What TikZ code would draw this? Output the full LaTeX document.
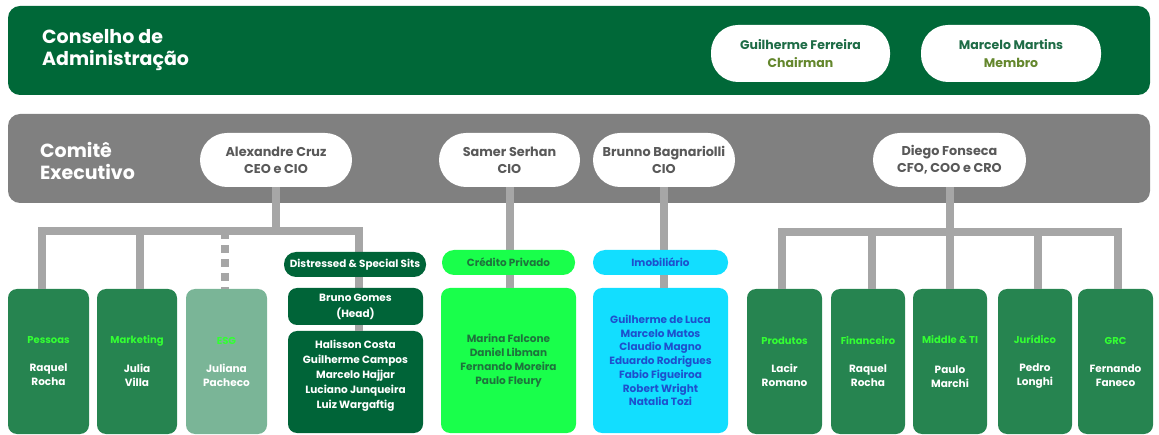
\documentclass[tikz,border=0pt]{standalone}
\usepackage{fontspec}
\setmainfont{Poppins}
\definecolor{boardgreen}{RGB}{0,104,56}
\definecolor{execgray}{RGB}{128,128,128}
\definecolor{conngray}{RGB}{166,166,166}
\definecolor{deptgreen}{RGB}{38,132,80}
\definecolor{esggreen}{RGB}{122,181,151}
\definecolor{dssgreen}{RGB}{0,100,56}
\definecolor{credgreen}{RGB}{25,255,75}
\definecolor{imobcyan}{RGB}{18,222,255}
\definecolor{titlegreen}{RGB}{51,255,51}
\definecolor{pillname}{RGB}{30,108,70}
\definecolor{pillrole}{RGB}{100,135,45}
\definecolor{execname}{RGB}{89,89,89}
\definecolor{credtext}{RGB}{30,115,60}
\definecolor{imobtext}{RGB}{30,80,205}
\tikzset{
  band/.style={rounded corners=12pt, inner sep=0pt},
  pill/.style={fill=white, rounded corners=27pt, inner sep=0pt, align=center},
  epill/.style={pill, minimum height=54pt, text=execname, font=\fontsize{12.8}{17}\selectfont\bfseries},
  deptbox/.style={fill=deptgreen, rounded corners=9pt, inner sep=0pt, minimum height=145pt, align=center, text=white, font=\fontsize{10.5}{14}\selectfont\bfseries},
  hdr/.style={rounded corners=12pt, inner sep=0pt, minimum height=25pt, align=center, font=\fontsize{10.4}{12}\selectfont\bfseries},
  listbox/.style={rounded corners=9pt, inner sep=0pt, align=center},
  conn/.style={draw=conngray, line width=8pt},
  bandtitle/.style={text=white, anchor=west, align=left, inner sep=0pt, font=\fontsize{19}{22.5}\selectfont\bfseries},
}
\newcommand{\dt}[1]{{\color{titlegreen}\fontsize{10}{14}\selectfont #1}}
\begin{document}
\begin{tikzpicture}[x=1pt,y=-1pt]
\useasboundingbox (0,0) rectangle (1159,435);
% bands
\node[band, fill=boardgreen, minimum width=1142pt, minimum height=89pt] (board) at (579,50.5) {};
\node[band, fill=execgray, minimum width=1142pt, minimum height=89pt] (exec) at (579,158.5) {};
\node[bandtitle] (boardt) at (42,50) {Conselho de\\Administração};
\node[bandtitle] (exect) at (40,161) {Comitê\\Executivo};
% board pills
\node[pill, minimum width=179pt, minimum height=57pt, font=\fontsize{12.5}{18}\selectfont\bfseries] (gf) at (800.5,53.5) {\color{pillname}Guilherme Ferreira\\\color{pillrole}Chairman};
\node[pill, minimum width=180pt, minimum height=57pt, font=\fontsize{12.5}{18}\selectfont\bfseries] (mm) at (1011,53.5) {\color{pillname}Marcelo Martins\\\color{pillrole}Membro};
% exec pills
\node[epill, minimum width=152pt] (alex) at (276,160) {Alexandre Cruz\\CEO e CIO};
\node[epill, minimum width=141pt] (samer) at (509.5,160) {Samer Serhan\\CIO};
\node[epill, minimum width=142pt] (brunno) at (664,160) {Brunno Bagnariolli\\CIO};
\node[epill, minimum width=153pt] (diego) at (949.5,160) {Diego Fonseca\\CFO, COO e CRO};
% junctions
\coordinate (jA) at (276,231);
\coordinate (jD) at (949.5,232);
% lower boxes
\node[deptbox, minimum width=81pt] (pessoas) at (48.5,361.5) {\dt{Pessoas}\\[14pt]Raquel\\Rocha};
\node[deptbox, minimum width=80pt] (mkt) at (137,361.5) {\dt{Marketing}\\[15pt]Julia\\Villa};
\node[deptbox, minimum width=81pt, fill=esggreen] (esg) at (226.5,361.5) {\dt{ESG}\\[14pt]Juliana\\Pacheco};
\node[listbox, fill=dssgreen, minimum width=135pt, minimum height=102pt, text depth=15pt, text=white, font=\fontsize{10.5}{15}\selectfont\bfseries] (team) at (355.5,382) {Halisson Costa\\Guilherme Campos\\Marcelo Hajjar\\Luciano Junqueira\\Luiz Wargaftig};
\node[listbox, fill=credgreen, minimum width=135pt, minimum height=145pt, text=credtext, font=\fontsize{10.5}{13.8}\selectfont\bfseries] (cred) at (508.5,360.5) {Marina Falcone\\Daniel Libman\\Fernando Moreira\\Paulo Fleury};
\node[listbox, fill=imobcyan, minimum width=135pt, minimum height=145pt, text=imobtext, font=\fontsize{10.5}{13.7}\selectfont\bfseries] (imob) at (660.5,360.5) {Guilherme de Luca\\Marcelo Matos\\Claudio Magno\\Eduardo Rodrigues\\Fabio Figueiroa\\Robert Wright\\Natalia Tozi};
\node[deptbox, minimum width=75pt] (prod) at (784.5,361.5) {\dt{Produtos}\\[14pt]Lacir\\Romano};
\node[deptbox, minimum width=74pt] (fin) at (868,361.5) {\dt{Financeiro}\\[14pt]Raquel\\Rocha};
\node[deptbox, minimum width=74pt] (mid) at (950,361.5) {\dt{Middle \& TI}\\[16pt]Paulo\\Marchi};
\node[deptbox, minimum width=74pt] (jur) at (1035,361.5) {\dt{Jurídico}\\[14pt]Pedro\\Longhi};
\node[deptbox, minimum width=75pt] (grc) at (1115.5,361.5) {\dt{GRC}\\[14pt]Fernando\\Faneco};
% connectors
\draw[conn] (alex.south) -- (jA);
\draw[conn] ([xshift=-6.5pt]pessoas.north) |- (jA) -| ([xshift=3.5pt]team.north);
\draw[conn] ([xshift=3pt]mkt.north) -- ([xshift=3pt]mkt.north |- jA);
\draw[conn, dash pattern=on 8pt off 6pt] ([xshift=-1.5pt]esg.north |- jA) -- ([xshift=-1.5pt]esg.north);
\draw[conn] (samer.south) -- (samer.south |- cred.north);
\draw[conn] (brunno.south) -- (brunno.south |- imob.north);
\draw[conn] (diego.south) -- (jD);
\draw[conn] ([xshift=-2.5pt]prod.north) |- (jD) -| ([xshift=2.5pt]grc.north);
\draw[conn] ([xshift=4pt]fin.north) -- ([xshift=4pt]fin.north |- jD);
\draw[conn] (mid.north) -- (mid.north |- jD);
\draw[conn] ([xshift=3pt]jur.north) -- ([xshift=3pt]jur.north |- jD);
% headers on top of connectors
\node[hdr, fill=dssgreen, minimum width=142pt, text=white] (dss) at (355,264.5) {Distressed \& Special Sits};
\node[listbox, fill=dssgreen, minimum width=135pt, minimum height=37pt, text=white, font=\fontsize{10.5}{16}\selectfont\bfseries] (bruno) at (355.5,306.5) {Bruno Gomes\\(Head)};
\node[hdr, fill=credgreen, minimum width=133pt, text=credtext] (credh) at (508.5,262.5) {Crédito Privado};
\node[hdr, fill=imobcyan, minimum width=135pt, text=imobtext] (imobh) at (660.5,262.5) {Imobiliário};
\end{tikzpicture}
\end{document}
